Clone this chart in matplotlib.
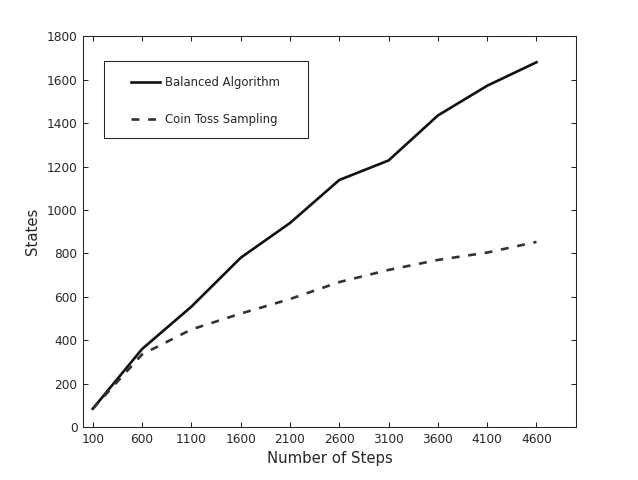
import matplotlib
matplotlib.use("Agg")
import matplotlib.pyplot as plt
from matplotlib.patches import Rectangle

steps = [100, 600, 1100, 1600, 2100, 2600, 3100, 3600, 4100, 4600]
balanced = [85, 360, 555, 780, 940, 1138, 1228, 1435, 1572, 1680]
coin_toss = [85, 335, 450, 523, 590, 668, 724, 770, 804, 853]
yticks = [0, 200, 400, 600, 800, 1000, 1200, 1400, 1600, 1800]

plt.rcParams['font.family'] = ['DejaVu Sans']
txt = '#262626'

fig = plt.figure(figsize=(6.38, 4.8), dpi=100)
ax = fig.add_axes([0.13, 0.11, 0.7727, 0.8146])

ax.plot(steps, balanced, color='#111111', lw=1.9, label='Balanced Algorithm')
ax.plot(steps, coin_toss, color='#333333', lw=1.9, dashes=(3, 3.3), label='Coin Toss Sampling')

ax.set_xlim(0, 5000)
ax.set_ylim(0, 1800)
ax.set_xticks(steps)
ax.set_yticks(yticks)
ax.tick_params(direction='in', top=True, right=True, length=3.6, width=0.75,
               labelsize=8.7, colors=txt, pad=4)
for s in ax.spines.values():
    s.set_linewidth(0.75)
    s.set_color(txt)

ax.set_xlabel('Number of Steps', fontsize=10.7, color=txt, labelpad=4)
ax.set_ylabel('States', fontsize=10.7, color=txt, labelpad=5)

ax.add_patch(Rectangle((0.0426, 0.739), 0.414, 0.197, transform=ax.transAxes,
                       fill=False, ec=txt, lw=0.75, zorder=5))
leg = ax.legend(loc='upper left', bbox_to_anchor=(0.097, 0.899), frameon=False,
                fontsize=8.4, handlelength=2.5, handletextpad=0.43,
                labelspacing=2.06, borderpad=0, borderaxespad=0)
for t in leg.get_texts():
    t.set_color(txt)

fig.savefig('out.png', dpi=100)
